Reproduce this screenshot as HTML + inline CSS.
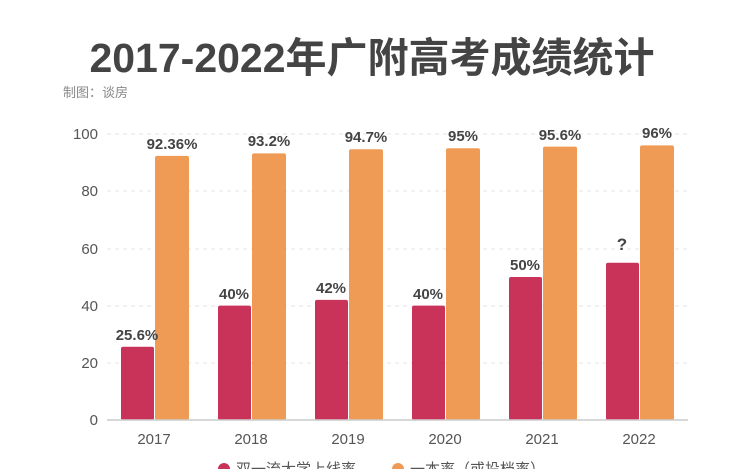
<!DOCTYPE html>
<html><head><meta charset="utf-8"><style>
body{margin:0;background:#fff;}
svg text{font-family:"Liberation Sans","Noto Sans CJK SC",sans-serif;}
</style></head><body>
<svg width="740" height="469" viewBox="0 0 740 469" xmlns="http://www.w3.org/2000/svg">
<rect width="740" height="469" fill="#fff"/>
<text x="372" y="72" text-anchor="middle" font-size="41" font-weight="bold" fill="#444">2017-2022年广附高考成绩统计</text>
<text x="63" y="97" font-size="13" fill="#888">制图：谈房</text>
<g stroke="#e6e6e6" stroke-dasharray="4,4">
<line x1="107" x2="688" y1="134" y2="134"/><line x1="107" x2="688" y1="191" y2="191"/>
<line x1="107" x2="688" y1="249" y2="249"/><line x1="107" x2="688" y1="306" y2="306"/>
<line x1="107" x2="688" y1="363" y2="363"/>
</g>
<g font-size="15" fill="#555" text-anchor="end">
<text x="98" y="139">100</text><text x="98" y="196">80</text><text x="98" y="254">60</text>
<text x="98" y="311">40</text><text x="98" y="368">20</text><text x="98" y="425">0</text>
</g>
<g fill="#c9335a">
<rect x="121" y="346.8" width="33" height="73.2" rx="2"/>
<rect x="218" y="305.6" width="33" height="114.4" rx="2"/>
<rect x="315" y="299.9" width="33" height="120.1" rx="2"/>
<rect x="412" y="305.6" width="33" height="114.4" rx="2"/>
<rect x="509" y="277" width="33" height="143" rx="2"/>
<rect x="606" y="262.7" width="33" height="157.3" rx="2"/>
</g>
<g fill="#ef9b55">
<rect x="155" y="155.9" width="34" height="264.1" rx="2"/>
<rect x="252" y="153.4" width="34" height="266.6" rx="2"/>
<rect x="349" y="149.2" width="34" height="270.8" rx="2"/>
<rect x="446" y="148.3" width="34" height="271.7" rx="2"/>
<rect x="543" y="146.6" width="34" height="273.4" rx="2"/>
<rect x="640" y="145.4" width="34" height="274.6" rx="2"/>
</g>
<line x1="107" x2="688" y1="420" y2="420" stroke="#ccc" stroke-width="1.5"/>
<g font-size="15" font-weight="bold" fill="#444" text-anchor="middle">
<text x="137" y="340">25.6%</text>
<text x="234" y="299">40%</text>
<text x="331" y="293">42%</text>
<text x="428" y="299">40%</text>
<text x="525" y="270">50%</text>
<text x="622" y="250" font-size="17">?</text>
<text x="172" y="149">92.36%</text>
<text x="269" y="146">93.2%</text>
<text x="366" y="142">94.7%</text>
<text x="463" y="141">95%</text>
<text x="560" y="140">95.6%</text>
<text x="657" y="138">96%</text>
</g>
<g font-size="15" fill="#555" text-anchor="middle">
<text x="154" y="444">2017</text><text x="251" y="444">2018</text><text x="348" y="444">2019</text>
<text x="445" y="444">2020</text><text x="542" y="444">2021</text><text x="639" y="444">2022</text>
</g>
<circle cx="224" cy="469" r="6" fill="#c9335a"/>
<text x="236" y="474" font-size="15" fill="#555">双一流大学上线率</text>
<circle cx="398" cy="469" r="6" fill="#ef9b55"/>
<text x="410" y="474" font-size="15" fill="#555">一本率（或投档率）</text>
</svg>
</body></html>
